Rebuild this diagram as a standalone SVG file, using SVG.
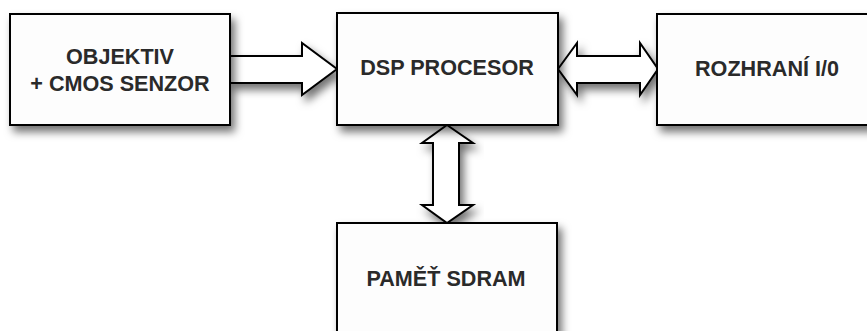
<svg xmlns="http://www.w3.org/2000/svg" width="867" height="331" viewBox="0 0 867 331">
  <defs>
    <filter id="shadow" x="-10%" y="-10%" width="130%" height="140%">
      <feDropShadow dx="4" dy="6" stdDeviation="4.5" flood-color="#000" flood-opacity="0.55"/>
    </filter>
  </defs>
  <style>
    .box { fill: #fdfdfd; stroke: #000; stroke-width: 2; filter: url(#shadow); }
    .arrow { fill: #fff; stroke: #000; stroke-width: 2; stroke-linejoin: miter; filter: url(#shadow); }
    .label { font-family: "Liberation Sans", Arial, sans-serif; font-weight: bold; font-size: 21.6px; fill: #2a2a2a; text-anchor: middle; }
  </style>
  <rect width="867" height="331" fill="#fff"/>

  <g id="connectors">
    <!-- sensor to DSP -->
    <path class="arrow" d="M230,56 H302 V43 L337,69 L302,95 V83 H230 Z"/>
    <!-- DSP to I/O, both ways -->
    <path class="arrow" d="M558,69 L577,43 V56 H640 V43 L658,69 L640,95 V83 H577 V95 Z"/>
    <!-- DSP to SDRAM, both ways -->
    <path class="arrow" d="M447,125 L473,143 H459 V205 H473 L447,223 L422,205 H433 V143 H422 Z"/>
  </g>

  <g id="sensor">
    <rect class="box" x="10" y="14" width="220" height="111"/>
    <text class="label" x="120" y="64">OBJEKTIV</text>
    <text class="label" x="120" y="91">+ CMOS SENZOR</text>
  </g>

  <g id="dsp">
    <rect class="box" x="337" y="13" width="221" height="112"/>
    <text class="label" x="447" y="75">DSP PROCESOR</text>
  </g>

  <g id="io">
    <rect class="box" x="657" y="14" width="220" height="111"/>
    <text class="label" x="767" y="76">ROZHRANÍ I/0</text>
  </g>

  <g id="sdram">
    <rect class="box" x="337" y="223" width="220" height="120"/>
    <text class="label" x="446" y="286">PAMĚŤ SDRAM</text>
  </g>
</svg>
